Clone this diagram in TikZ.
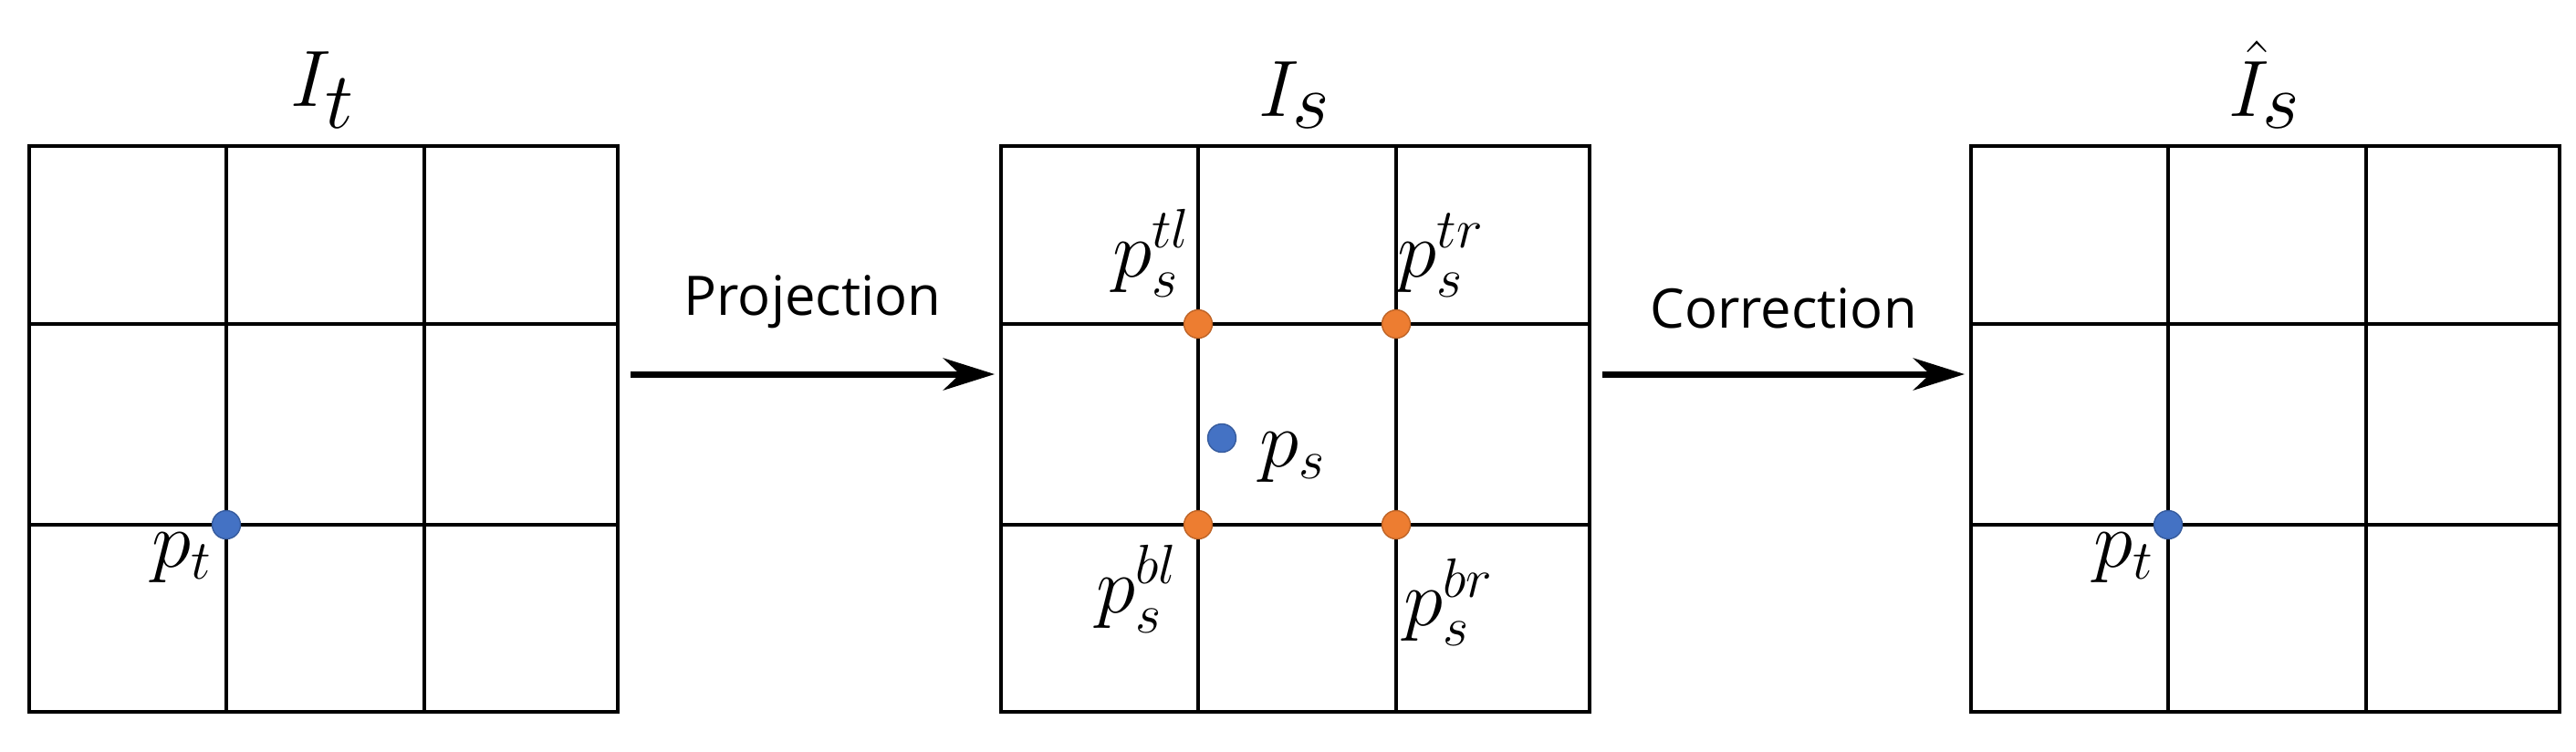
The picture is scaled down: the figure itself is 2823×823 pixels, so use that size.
\documentclass[tikz,border=0pt]{standalone}
\usepackage{fontspec}
\setmainfont{Open Sans}
\usepackage{amsmath}
\usetikzlibrary{arrows.meta,positioning}
\definecolor{dotblue}{RGB}{68,114,196}
\definecolor{dotorange}{RGB}{237,125,49}

\begin{document}
\begin{tikzpicture}[
    x=0.01cm, y=-0.01cm,
    % Environment Config
    MyArrow/.style={% Style for the mappings
      -{Stealth[length=16pt,width=10pt]},
      line width=2pt
    },
    Dot/.style={% Style for the sample points
      circle,
      fill=#1,
      draw=#1!80!black,
      line width=0.4pt,
      inner sep=0pt,
      minimum size=0.31cm
    },
    Title/.style={font=\fontsize{48}{54}\selectfont},
    Lbl/.style={font=\fontsize{25}{30}\selectfont, inner sep=1pt},
    Step/.style={font=\fontsize{17}{20}\selectfont}
  ]

  \useasboundingbox (0,0) rectangle (2823,823);

  \def\MyGrid(#1)#2{% Custom 3x3 grid
    \begin{scope}[shift={(#1)}]
      \draw[line width=0.9pt] (0,0) rectangle (645,620);
      \draw[line width=0.9pt] (216,0) -- (216,620) (433,0) -- (433,620)
        (0,195) -- (645,195) (0,415) -- (645,415);
      \coordinate (#2 N) at (322,0);
      \coordinate (#2 W) at (0,250);
      \coordinate (#2 E) at (645,250);
      \coordinate (#2 TL) at (216,195);
      \coordinate (#2 TR) at (433,195);
      \coordinate (#2 BL) at (216,415);
      \coordinate (#2 BR) at (433,415);
    \end{scope}
  }

  % Put the grids in position
  \MyGrid(32,160){T}
  \MyGrid(1097,160){S}
  \MyGrid(2160,160){H}

  % Titles
  \node[Title, above=2pt of T N] (TitleT) {$I_t$};
  \node[Title, above=2pt of S N] (TitleS) {$I_s$};
  \node[Title, above=2pt of H N] (TitleH) {$\hat{I}_s$};

  % Points
  \node[Dot=dotblue] (PT) at (T BL) {};
  \node[Lbl, below left=-2pt and 0pt of PT] {$p_t$};

  \node[Dot=dotorange] (PTL) at (S TL) {};
  \node[Dot=dotorange] (PTR) at (S TR) {};
  \node[Dot=dotorange] (PBL) at (S BL) {};
  \node[Dot=dotorange] (PBR) at (S BR) {};
  \node[Lbl, above left=4pt and -2pt of PTL] {$p_s^{tl}$};
  \node[Lbl, above right=4pt and -4pt of PTR] {$p_s^{tr}$};
  \node[Lbl, below left=2pt and 2pt of PBL] {$p_s^{bl}$};
  \node[Lbl, below right=6pt and -2pt of PBR] {$p_s^{br}$};
  \node[Dot=dotblue] (PS) at (1339,480) {};
  \node[Lbl, right=6pt of PS, yshift=-6pt] {$p_s$};

  \node[Dot=dotblue] (PH) at (H BL) {};
  \node[Lbl, below left=-2pt and 0pt of PH] {$p_t$};

  % Mappings
  \draw[MyArrow] ([xshift=4pt]T E) -- ([xshift=-2pt]S W)
      node[midway, above=10pt, Step]{Projection};
  \draw[MyArrow] ([xshift=4pt]S E) -- ([xshift=-2pt]H W)
      node[midway, above=10pt, Step]{Correction};

\end{tikzpicture}
\end{document}
